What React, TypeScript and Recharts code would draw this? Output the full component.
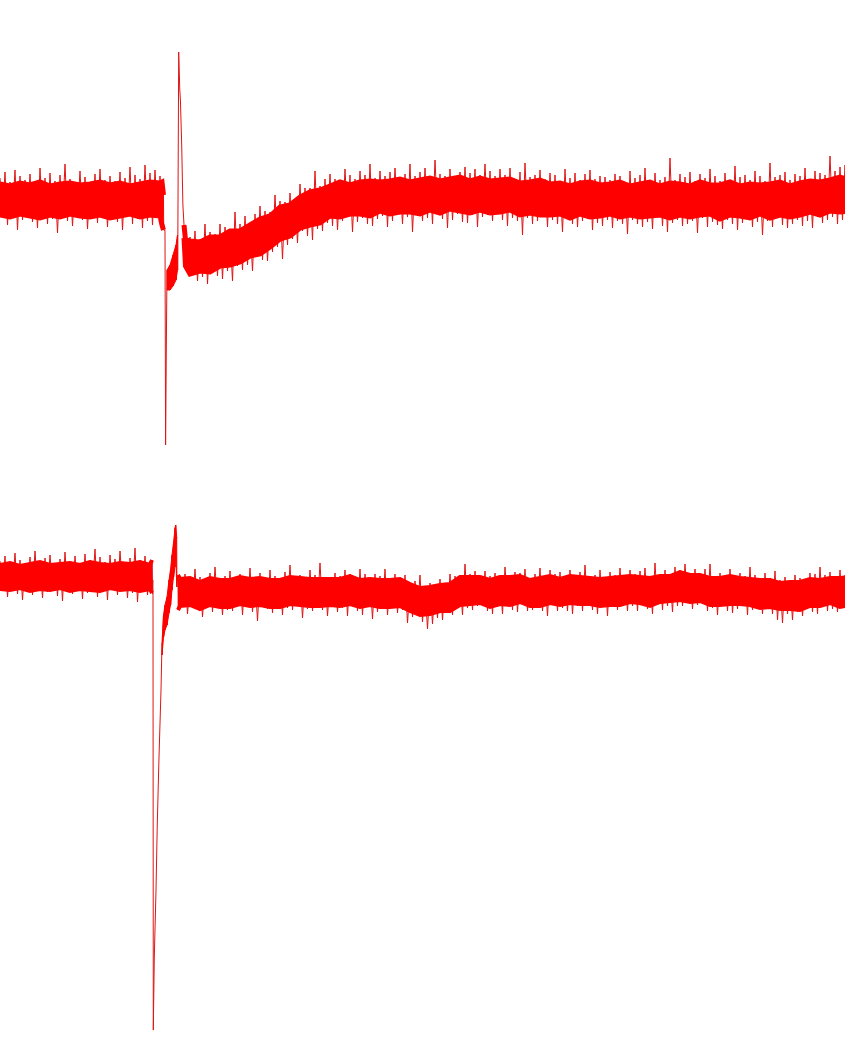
import React from "react";
import { ComposedChart, Area, Line, XAxis, YAxis } from "recharts";

// Sampling interval of the min/max (spike) envelope and of the solid core (time units)
const DT = 5;
const CORE_DT = 10;

// ================= Trace 1 (top) =================
// spike tips (max / min per 5-unit bin)
const TOP_PRE_START = 0;
const TOP_PRE_HI = [22, 28, 18, 30, 24, 20, 26, 16, 32, 22, 27, 19, 25, 36, 21, 18, 29, 23, 17, 26, 31, 20, 24, 19, 28, 22, 33, 25, 21, 35, 27, 30, 24];
const TOP_PRE_LO = [-18, -25, -14, -30, -20, -16, -22, -28, -15, -24, -19, -33, -17, -21, -26, -13, -20, -29, -16, -23, -18, -27, -15, -22, -30, -17, -24, -19, -28, -21, -25, -18, -22];
// solid core
const TOP_PRE_CORE_HI = [16, 14, 17, 15, 18, 14, 16, 17, 15, 16, 18, 15, 17, 14, 16, 18, 17];
const TOP_PRE_CORE_LO = [-15, -17, -14, -16, -18, -15, -17, -14, -16, -17, -15, -18, -16, -14, -17, -15, -16];

// event (stimulus artefact + response)
const TOP_EVENT_T = [162, 163.5, 164.8, 165.6, 166.3, 167, 170, 173, 176, 177.5, 178.7, 179.5, 180.5, 181.5, 182.7, 184, 185.5];
const TOP_EVENT_HI = [18, 5, -30, -245, -150, -70, -65, -55, -45, -35, 148, 120, 98, 62, 5, -25, -40];
const TOP_EVENT_LO = [-25, -30, -32, -245, -150, -90, -90, -86, -80, -70, 148, 112, 90, 55, -5, -38, -66];

const TOP_POST_START = 190;
const TOP_POST_HI = [
  -37, -31, -39, -24, -32, -34, -24, -27, -33, -12,
  -24, -16, -23, -14, -6, -11, -12, 5, -1, -2,
  7, 1, 16, 12, 12, 29, 14, 21, 26, 21,
  18, 31, 25, 21, 29, 25, 36, 22, 29, 24,
  28, 32, 20, 26, 36, 24, 28, 32, 24, 40,
  26, 24, 31, 22, 28, 33, 27, 31, 25, 36,
  29, 24, 31, 25, 32, 20, 28, 37, 23, 25,
  30, 21, 27, 25, 18, 31, 22, 27, 20, 26,
  30, 21, 24, 23, 20, 26, 24, 18, 29, 22,
  25, 32, 19, 27, 20, 23, 42, 20, 26, 23,
  28, 19, 26, 22, 31, 24, 19, 27, 18, 34,
  23, 25, 20, 29, 24, 19, 37, 23, 25, 28,
  20, 26, 24, 32, 21, 29, 27, 25, 44, 29,
  33, 35,
];
const TOP_POST_LO = [
  -75, -81, -77, -84, -70, -76, -79, -71, -81, -66,
  -70, -65, -71, -56, -60, -61, -52, -47, -59, -45,
  -39, -43, -31, -36, -40, -29, -31, -23, -26, -30,
  -21, -17, -32, -22, -18, -24, -26, -19, -16, -27,
  -21, -15, -24, -17, -32, -16, -21, -18, -24, -14,
  -19, -28, -20, -14, -22, -23, -15, -27, -17, -15,
  -21, -14, -20, -26, -18, -21, -35, -18, -24, -21,
  -17, -27, -20, -24, -32, -18, -24, -27, -21, -19,
  -30, -23, -26, -20, -28, -21, -24, -34, -20, -24,
  -27, -22, -29, -18, -26, -32, -23, -20, -26, -24,
  -21, -33, -18, -27, -22, -25, -29, -20, -24, -30,
  -23, -19, -27, -22, -35, -21, -27, -18, -25, -28,
  -24, -20, -26, -21, -28, -17, -23, -20, -17, -24,
  -20, -17,
];
const TOP_POST_CORE_HI = [
  -41, -42, -37, -37, -31, -31, -25, -19, -16, -7,
  -5, 3, 8, 10, 14, 18, 15, 18, 19, 18,
  19, 21, 18, 20, 22, 19, 21, 23, 19, 22,
  19, 20, 21, 17, 18, 20, 16, 17, 14, 17,
  18, 15, 16, 18, 14, 16, 18, 14, 17, 16,
  14, 18, 15, 15, 18, 14, 16, 15, 16, 18,
  14, 17, 19, 18, 20, 23, 20,
];
const TOP_POST_CORE_LO = [
  -74, -71, -72, -66, -65, -62, -56, -54, -47, -39,
  -36, -28, -25, -23, -16, -17, -14, -14, -16, -11,
  -14, -12, -12, -14, -10, -13, -9, -11, -13, -10,
  -13, -12, -10, -15, -13, -15, -15, -14, -18, -14,
  -17, -16, -14, -17, -15, -17, -16, -15, -18, -15,
  -17, -15, -14, -19, -15, -16, -18, -14, -18, -15,
  -17, -15, -12, -15, -11, -12, -11,
];

// ================= Trace 2 (bottom) =================
const BOT_PRE_START = 0;
const BOT_PRE_HI = [14, 19, 10, 22, 15, 12, 18, 24, 13, 17, 20, 11, 16, 23, 14, 19, 12, 21, 15, 26, 18, 13, 20, 16, 24, 12, 17, 27, 15, 19, 14];
const BOT_PRE_LO = [-16, -22, -13, -19, -25, -15, -20, -14, -23, -17, -12, -21, -26, -16, -19, -14, -24, -18, -13, -22, -17, -25, -15, -20, -13, -23, -18, -27, -16, -20, -19];
const BOT_PRE_CORE_HI = [10, 12, 9, 11, 13, 10, 11, 12, 10, 13, 11, 10, 12, 11, 13, 10];
const BOT_PRE_CORE_LO = [-14, -15, -13, -16, -14, -15, -13, -16, -14, -15, -16, -13, -15, -14, -16, -14];

const BOT_EVENT_T = [152, 152.8, 153.3, 154.3, 156, 157.3, 159, 161, 162, 163.5, 165, 167, 169, 170.5, 172, 173.5, 175, 175.7, 176.7, 178];
const BOT_EVENT_HI = [15, -5, -455, -382, -315, -248, -182, -115, -68, -40, -30, -22, -5, 5, 20, 32, 47, 50, 38, 0];
const BOT_EVENT_LO = [-18, -20, -455, -382, -315, -248, -182, -115, -80, -62, -55, -50, -38, -30, -15, -2, 8, 30, -12, -35];

const BOT_POST_START = 180;
const BOT_POST_HI = [
  -3, 1, -7, 6, -2, -6, 2, 8, -6, -1,
  4, -3, 1, -4, 7, -2, 2, -3, 5, -1,
  -3, 3, 10, -4, 0, -3, 5, 0, 12, -2,
  -6, 2, -1, 5, 1, -4, 6, 1, -4, 1,
  -1, 6, -5, 1, -4, 0, -11, -6, 0, -11,
  -8, -12, -4, -8, 1, -1, -3, 11, 1, 4,
  -3, 4, -1, 2, -3, 8, -2, 3, 2, 6,
  -3, 1, 7, -3, 5, 1, 3, -5, 5, 0,
  3, 10, -3, 0, 5, -2, 3, 0, 7, -4,
  5, 1, 4, 7, -2, 12, 1, 5, 0, 8,
  5, 11, -1, 6, 1, 6, 11, -1, 2, 0,
  6, -4, 2, -1, 8, 0, -6, 2, -3, 4,
  -5, -2, -8, 0, -3, -6, 2, 1, 8, 0,
  3, -2, 5, 0,
];
const BOT_POST_LO = [
  -32, -39, -31, -35, -42, -33, -37, -29, -40, -35,
  -36, -31, -40, -32, -37, -46, -31, -34, -38, -33,
  -40, -33, -35, -30, -43, -34, -36, -31, -35, -41,
  -32, -37, -33, -41, -29, -36, -40, -32, -44, -37,
  -34, -40, -32, -38, -35, -48, -42, -37, -47, -54,
  -49, -43, -45, -38, -40, -33, -40, -33, -35, -31,
  -29, -36, -39, -32, -39, -31, -35, -37, -29, -36,
  -35, -32, -36, -41, -28, -36, -33, -36, -39, -31,
  -36, -30, -35, -39, -32, -41, -31, -35, -30, -36,
  -31, -36, -29, -34, -39, -30, -35, -31, -37, -31,
  -31, -25, -34, -30, -29, -36, -33, -40, -30, -36,
  -38, -34, -31, -40, -35, -33, -39, -33, -39, -45,
  -48, -39, -45, -37, -41, -33, -37, -39, -32, -36,
  -34, -37, -33, -36,
];
const BOT_POST_CORE_HI = [
  -4, -3, -7, -3, -5, -5, -2, -4, -3, -5,
  -5, -2, -3, -4, -4, -4, -4, -1, -5, -4,
  -5, -5, -4, -9, -13, -12, -10, -9, -2, -2,
  -2, -5, -2, -2, -1, -5, -3, -1, -4, -1,
  -2, -3, -4, -3, -2, -1, -2, -3, -1, -1,
  3, 0, 0, -3, -3, -1, -3, -4, -5, -5,
  -8, -7, -7, -4, -5, -3, -3, -2,
];
const BOT_POST_CORE_LO = [
  -31, -30, -34, -30, -32, -32, -29, -31, -30, -32,
  -32, -29, -30, -31, -31, -30, -31, -29, -32, -30,
  -32, -32, -31, -36, -40, -39, -36, -36, -30, -29,
  -28, -32, -29, -30, -27, -31, -31, -28, -30, -28,
  -29, -29, -31, -30, -30, -27, -28, -31, -27, -26,
  -25, -27, -26, -30, -30, -29, -29, -30, -33, -32,
  -34, -34, -35, -31, -31, -28, -32, -30,
];

const X_DOMAIN: [number, number] = [0, 845];
const TOP_Y_DOMAIN: [number, number] = [-270, 200];
const BOT_Y_DOMAIN: [number, number] = [-472, 105];

type BandRow = { t: number; band: [number, number] };
type LineRow = { t: number; v: number };

function coreRows(start: number, step: number, hi: number[], lo: number[]): BandRow[] {
  return hi.map((h, i) => ({ t: start + i * step, band: [lo[i], h] as [number, number] }));
}
function eventBand(ts: number[], hi: number[], lo: number[], from: number, to: number): BandRow[] {
  return ts.slice(from, to).map((t, k) => ({ t, band: [lo[from + k], hi[from + k]] as [number, number] }));
}
// max then min of each bin, in order: the trace swings between them
function swing(start: number, hi: number[], lo: number[]): LineRow[] {
  const rows: LineRow[] = [];
  hi.forEach((h, i) => {
    rows.push({ t: start + i * DT, v: h });
    rows.push({ t: start + i * DT + DT / 2, v: lo[i] });
  });
  return rows;
}
function eventSwing(ts: number[], hi: number[], lo: number[]): LineRow[] {
  const rows: LineRow[] = [];
  ts.forEach((t, i) => {
    rows.push({ t, v: hi[i] });
    if (lo[i] !== hi[i]) rows.push({ t: t + 0.2, v: lo[i] });
  });
  return rows;
}

// solid-core segments (before, within and after the event)
const topCoreSegments: BandRow[][] = [
  [...coreRows(TOP_PRE_START, CORE_DT, TOP_PRE_CORE_HI, TOP_PRE_CORE_LO), ...eventBand(TOP_EVENT_T, TOP_EVENT_HI, TOP_EVENT_LO, 0, 2)],
  eventBand(TOP_EVENT_T, TOP_EVENT_HI, TOP_EVENT_LO, 5, 10),
  [...eventBand(TOP_EVENT_T, TOP_EVENT_HI, TOP_EVENT_LO, 15, 17), ...coreRows(TOP_POST_START, CORE_DT, TOP_POST_CORE_HI, TOP_POST_CORE_LO)],
];
const topTrace: LineRow[] = [
  ...swing(TOP_PRE_START, TOP_PRE_HI, TOP_PRE_LO),
  ...eventSwing(TOP_EVENT_T, TOP_EVENT_HI, TOP_EVENT_LO),
  ...swing(TOP_POST_START, TOP_POST_HI, TOP_POST_LO),
];
const botCoreSegments: BandRow[][] = [
  [...coreRows(BOT_PRE_START, CORE_DT, BOT_PRE_CORE_HI, BOT_PRE_CORE_LO), ...eventBand(BOT_EVENT_T, BOT_EVENT_HI, BOT_EVENT_LO, 0, 1)],
  eventBand(BOT_EVENT_T, BOT_EVENT_HI, BOT_EVENT_LO, 8, 19),
  [...eventBand(BOT_EVENT_T, BOT_EVENT_HI, BOT_EVENT_LO, 19, 20), ...coreRows(BOT_POST_START, CORE_DT, BOT_POST_CORE_HI, BOT_POST_CORE_LO)],
];
const botTrace: LineRow[] = [
  ...swing(BOT_PRE_START, BOT_PRE_HI, BOT_PRE_LO),
  ...eventSwing(BOT_EVENT_T, BOT_EVENT_HI, BOT_EVENT_LO),
  ...swing(BOT_POST_START, BOT_POST_HI, BOT_POST_LO),
];

const RED = "#ff0000";
const MARGIN = { top: 0, right: 0, bottom: 0, left: 0 };

function Trace({
  segments,
  trace,
  height,
  yDomain,
  coreStroke,
}: {
  segments: BandRow[][];
  trace: LineRow[];
  height: number;
  yDomain: [number, number];
  coreStroke: number;
}) {
  return (
    <div style={{ position: "relative", width: 845, height }}>
      <div style={{ position: "absolute", left: 0, top: 0 }}>
        <ComposedChart width={845} height={height} margin={MARGIN}>
          <XAxis dataKey="t" type="number" domain={X_DOMAIN} hide allowDataOverflow />
          <YAxis type="number" domain={yDomain} hide allowDataOverflow />
          <Line
            data={trace}
            type="linear"
            dataKey="v"
            stroke="#e01414"
            strokeWidth={1}
            dot={false}
            activeDot={false}
            isAnimationActive={false}
          />
        </ComposedChart>
      </div>
      <div style={{ position: "absolute", left: 0, top: 0 }}>
        <ComposedChart width={845} height={height} margin={MARGIN}>
          <XAxis dataKey="t" type="number" domain={X_DOMAIN} hide allowDataOverflow />
          <YAxis type="number" domain={yDomain} hide allowDataOverflow />
          {segments.map((seg, i) => (
            <Area
              key={i}
              data={seg}
              type="linear"
              dataKey="band"
              stroke={RED}
              strokeWidth={i === 1 ? 1 : coreStroke}
              fill={RED}
              fillOpacity={1}
              dot={false}
              activeDot={false}
              isAnimationActive={false}
            />
          ))}
        </ComposedChart>
      </div>
    </div>
  );
}

export default function App() {
  return (
    <div style={{ position: "absolute", left: 0, top: 0, width: 845, height: 1047, background: "#ffffff" }}>
      <Trace segments={topCoreSegments} trace={topTrace} height={470} yDomain={TOP_Y_DOMAIN} coreStroke={5} />
      <Trace segments={botCoreSegments} trace={botTrace} height={577} yDomain={BOT_Y_DOMAIN} coreStroke={4} />
    </div>
  );
}
